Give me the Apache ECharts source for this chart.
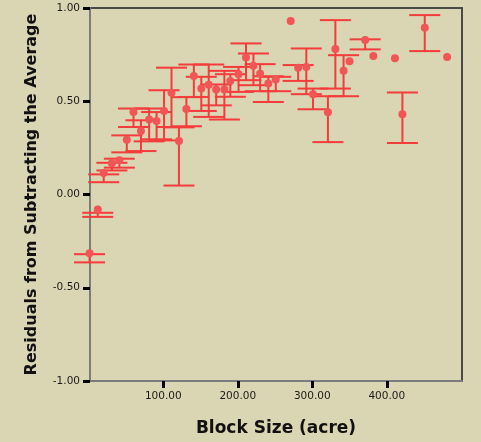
<!DOCTYPE html>
<html>
<head>
<meta charset="utf-8">
<script src="https://cdn.jsdelivr.net/npm/echarts@6/dist/echarts.min.js"></script>
<style>
    html, body { margin: 0; padding: 0; background: #dad5b3; }
    #chart1 { width: 481px; height: 442px; }
</style>
</head>
<body>
<div id="chart1"></div>
<script>
// block size (acre) of each group
var blockSize = [1, 12, 20, 31, 41, 51, 60, 70, 81, 91, 101, 111, 121, 131, 141, 151, 161, 171, 182, 190,
    201, 211, 221, 230, 241, 251, 271, 281, 292, 301, 321, 331, 342, 350, 371, 382, 411, 421, 451, 481];
// mean residual
var residual = [-0.315, -0.081, 0.115, 0.168, 0.183, 0.294, 0.442, 0.340, 0.402, 0.394, 0.448, 0.545, 0.287, 0.459, 0.636, 0.568, 0.588, 0.563, 0.563, 0.609,
    0.645, 0.735, 0.690, 0.647, 0.595, 0.617, 0.930, 0.679, 0.683, 0.538, 0.441, 0.780, 0.663, 0.715, 0.828, 0.742, 0.731, 0.430, 0.894, 0.737];
// error bar ends (null = no bar)
var ciHigh = [-0.32, -0.098, 0.108, 0.170, 0.192, 0.317, 0.461, 0.398, 0.461, 0.442, 0.559, 0.680, 0.360, 0.522, 0.697, 0.631, 0.697, 0.590, 0.663, 0.645,
    0.684, 0.810, 0.756, 0.699, 0.634, 0.631, null, 0.694, 0.783, 0.568, 0.527, 0.935, 0.747, null, 0.832, null, null, 0.547, 0.962, null];
var ciLow = [-0.364, -0.120, 0.066, 0.129, 0.144, 0.226, 0.362, 0.233, 0.285, 0.296, 0.290, 0.362, 0.048, 0.366, 0.523, 0.448, 0.416, 0.478, 0.402, 0.524,
    0.550, 0.613, 0.586, 0.554, 0.496, 0.554, null, 0.609, 0.538, 0.457, 0.281, 0.568, 0.527, null, 0.778, null, null, 0.276, 0.769, null];
var xTicks = [100, 200, 300, 400];

var barColor = '#f43c3c';

var chart1 = echarts.init(document.getElementById('chart1'));

var points = [];
var bars = [];
for (var i = 0; i < blockSize.length; i++) {
    points.push([blockSize[i], residual[i]]);
    if (ciLow[i] != null) {
        bars.push([blockSize[i], ciLow[i], ciHigh[i]]);
    }
}

function renderBar(params, api) {
    var x = api.value(0);
    var lo = api.coord([x, api.value(1)]);
    var hi = api.coord([x, api.value(2)]);
    var hw = 15.5; // half cap width
    var style = { stroke: barColor, lineWidth: 2 };
    return {
        type: 'group',
        children: [
            { type: 'line', shape: { x1: lo[0], y1: lo[1], x2: hi[0], y2: hi[1] }, style: style },
            { type: 'line', shape: { x1: lo[0] - hw, y1: lo[1], x2: lo[0] + hw, y2: lo[1] }, style: style },
            { type: 'line', shape: { x1: hi[0] - hw, y1: hi[1], x2: hi[0] + hw, y2: hi[1] }, style: style }
        ]
    };
}

var option = {
    backgroundColor: '#dad5b3',
    animation: false,
    textStyle: { fontFamily: 'DejaVu Sans' },
    grid: {
        left: 90,
        right: 19,
        top: 8,
        bottom: 61,
        show: true,
        borderColor: '#4a4a4a',
        borderWidth: 2,
        backgroundColor: 'transparent'
    },
    xAxis: {
        type: 'value',
        min: 1.6,
        max: 501,
        name: 'Block Size (acre)',
        nameLocation: 'middle',
        nameGap: 39,
        nameTextStyle: { fontSize: 17, fontWeight: 'bold', color: '#111', fontFamily: 'DejaVu Sans' },
        splitLine: { show: false },
        axisLine: { onZero: false, lineStyle: { color: '#7c7c7c', width: 2 } },
        axisTick: { customValues: xTicks, inside: false, length: 7, lineStyle: { color: '#000', width: 3 } },
        axisLabel: {
            customValues: xTicks,
            margin: 10,
            fontSize: 10.5,
            color: '#1a1a1a',
            formatter: function(v) { return v.toFixed(2); }
        }
    },
    yAxis: {
        type: 'value',
        min: -1,
        max: 1,
        interval: 0.5,
        name: 'Residuals from Subtracting the Average',
        nameLocation: 'middle',
        nameGap: 50,
        nameTextStyle: { fontSize: 16, fontWeight: 'bold', color: '#111', fontFamily: 'DejaVu Sans' },
        splitLine: { show: false },
        axisLine: { show: true, onZero: false, lineStyle: { color: '#7c7c7c', width: 2 } },
        axisTick: { show: true, inside: false, length: 7, lineStyle: { color: '#000', width: 3 } },
        axisLabel: {
            margin: 10,
            fontSize: 10.5,
            color: '#1a1a1a',
            formatter: function(v) { return v.toFixed(2); }
        }
    },
    series: [{
        type: 'custom',
        renderItem: renderBar,
        data: bars,
        clip: false,
        encode: { x: 0, y: [1, 2] },
        z: 2
    }, {
        type: 'scatter',
        data: points,
        clip: false,
        symbol: 'circle',
        symbolSize: 8,
        itemStyle: { color: '#f25555', opacity: 1 },
        z: 3
    }]
};
chart1.setOption(option);
</script>
</body>
</html>
